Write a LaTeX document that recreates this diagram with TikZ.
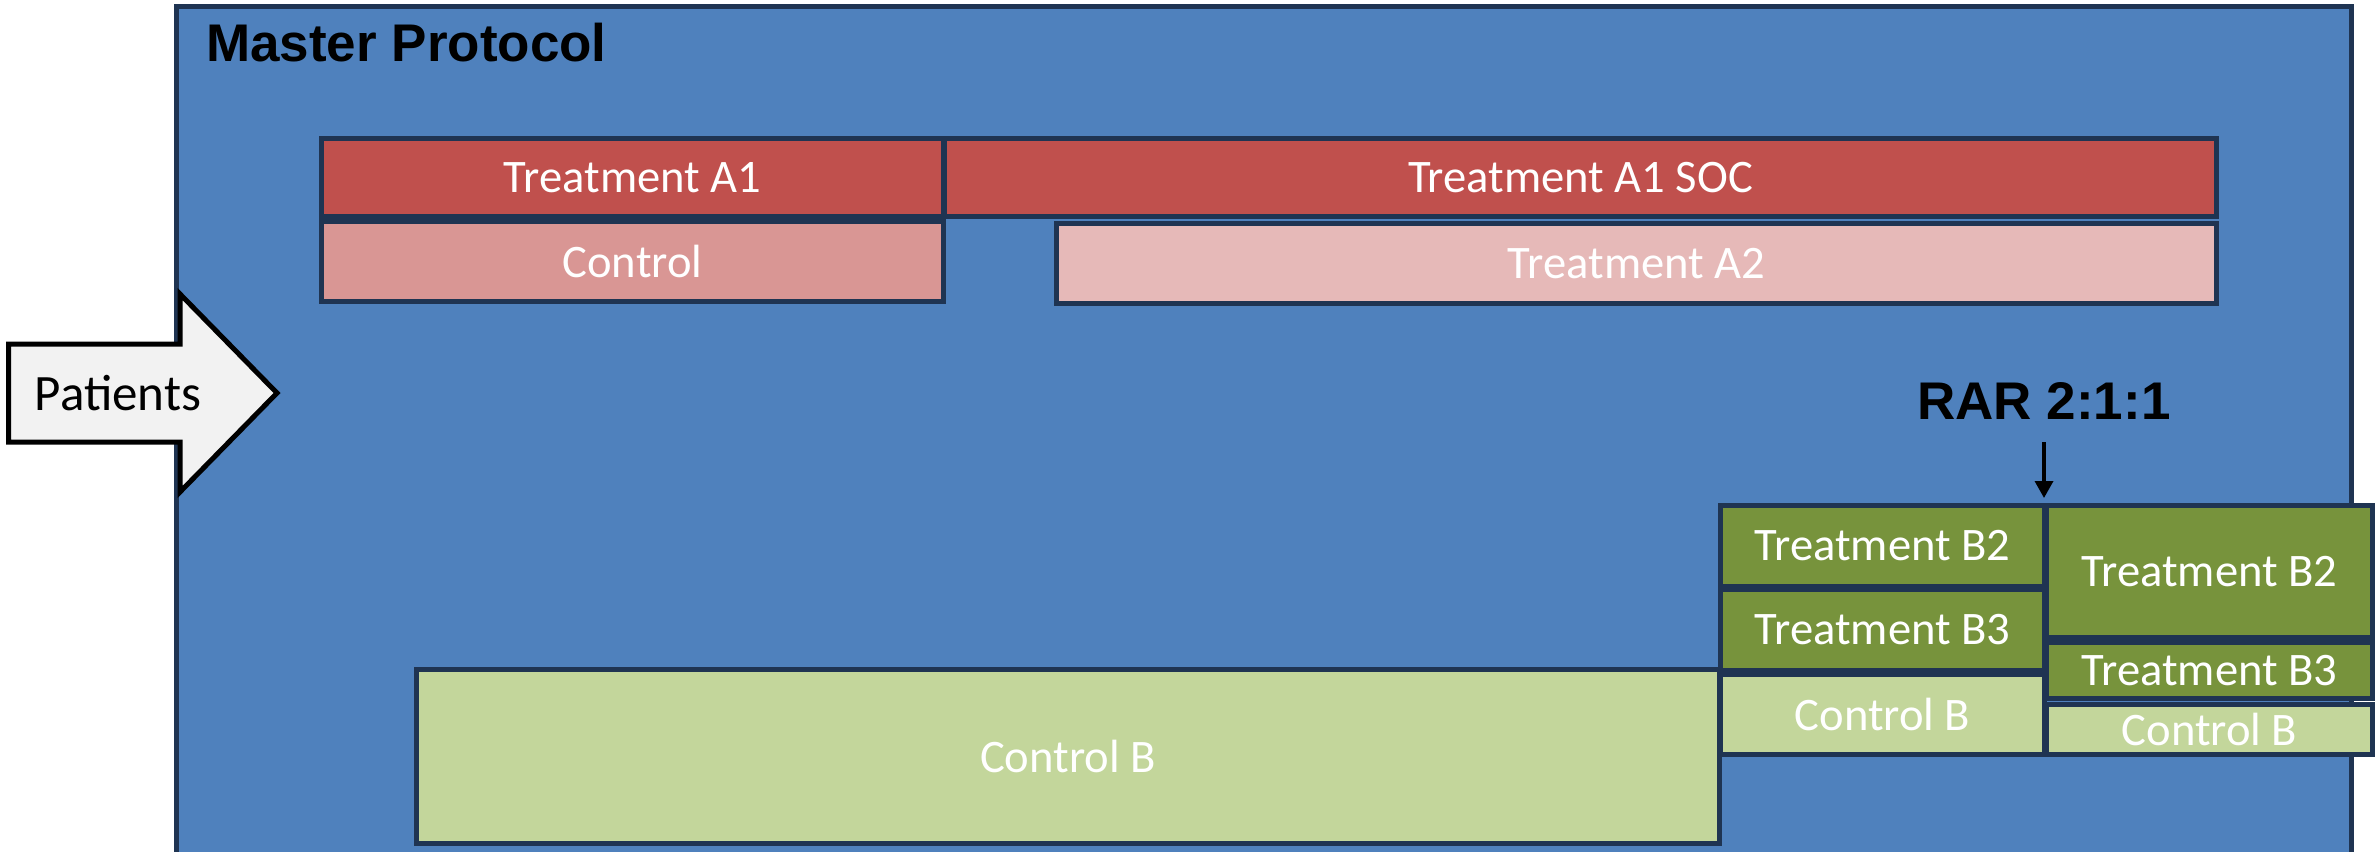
\documentclass[tikz,border=0pt]{standalone}
\usepackage{fontspec}
\setmainfont{Carlito}
\newfontfamily\titlefont{Liberation Sans}
\usetikzlibrary{arrows.meta}

\definecolor{masterblue}{HTML}{4F81BD}
\definecolor{edgenavy}{RGB}{31,52,82}
\definecolor{armred}{HTML}{C0504D}
\definecolor{ctrlpink}{HTML}{D99694}
\definecolor{armpink}{HTML}{E6B9B8}
\definecolor{armgreen}{HTML}{77933C}
\definecolor{ctrlgreen}{HTML}{C3D69B}
\definecolor{arrowgrey}{HTML}{F2F2F2}

\newcommand{\boxfont}{\fontsize{46.6}{56}\selectfont}
\newcommand{\headfont}{\titlefont\bfseries\fontsize{53}{64}\selectfont}

\tikzset{
  armbox/.style={draw=edgenavy, line width=5pt, text=white, font=\boxfont, inner sep=0pt},
}

\begin{document}
\begin{tikzpicture}[x=1pt, y=-1pt]
    \clip (0,0) rectangle (2379,851);
    % Master protocol frame
    \draw[edgenavy, line width=5pt, fill=masterblue] (176.5,6.5) rectangle (2351.5,880);
    \node[anchor=base west, inner sep=0pt, font=\headfont] (title) at (206,62) {Master Protocol};

    % Patients arrow
    \draw[black, line width=5pt, line join=miter, fill=arrowgrey]
        (8.5,344) -- (180,344) -- (180,294) -- (277,393) -- (180,492) -- (180,442) -- (8.5,442) -- cycle;
    \node[inner sep=0pt, font=\fontsize{51}{61}\selectfont] (patients) at (118,393) {Patients};

    % Arm A
    \node[armbox, fill=armred, minimum width=622, minimum height=78] (a1) at (632.5,177.5) {Treatment A1};
    \node[armbox, fill=armred, minimum width=1272, minimum height=78] (a1soc) at (1580.5,177.5) {Treatment A1 SOC};
    \node[armbox, fill=ctrlpink, minimum width=622, minimum height=80] (ctrla) at (632.5,261.5) {Control};
    \node[armbox, fill=armpink, minimum width=1160, minimum height=80] (a2) at (1636.5,263.5) {Treatment A2};

    % Arm B
    \node[armbox, fill=ctrlgreen, minimum width=1303, minimum height=174] (ctrlb) at (1068,756.5) {Control B};
    \node[armbox, fill=armgreen, minimum width=324, minimum height=81] (b2) at (1882.5,546) {Treatment B2};
    \node[armbox, fill=armgreen, minimum width=324, minimum height=81] (b3) at (1882.5,630) {Treatment B3};
    \node[armbox, fill=ctrlgreen, minimum width=324, minimum height=80] (ctrlbb) at (1882.5,714.5) {Control B};

    % After adaptation
    \node[armbox, fill=armgreen, minimum width=326, minimum height=132] (rarb2) at (2209.5,571.5) {Treatment B2};
    \node[armbox, fill=armgreen, minimum width=326, minimum height=56] (rarb3) at (2209.5,670.5) {Treatment B3};
    \node[armbox, fill=ctrlgreen, minimum width=326, minimum height=50] (rarctrl) at (2209.5,729.5) {Control B};

    % RAR label
    \node[inner xsep=0pt, inner ysep=23pt, font=\headfont] (rar) at (2044,400.5) {RAR 2:1:1};
    \coordinate (split) at (2044,498);
    \draw[line width=3.5pt, -{Triangle[length=17pt,width=18pt]}] (rar.south) -- (split);
\end{tikzpicture}
\end{document}
